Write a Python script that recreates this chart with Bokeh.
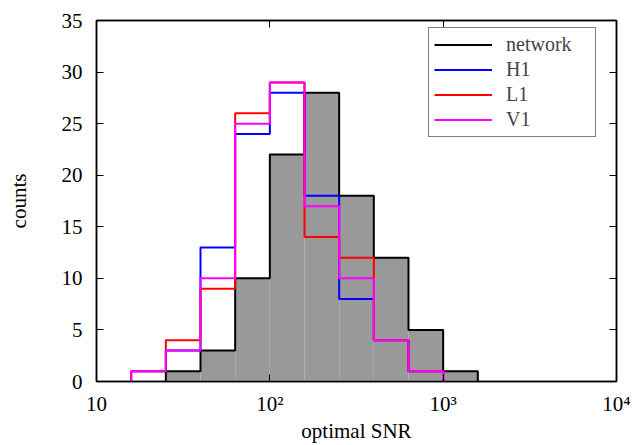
import numpy as np
from bokeh.plotting import figure
from bokeh.models import (LogAxis, LinearAxis, FixedTicker,
                          Legend, LegendItem, Range1d)
from bokeh.embed import file_html
from bokeh.resources import INLINE

# ---- data ----
bin_edges = [15.85, 25.12, 39.81, 63.10, 100.0, 158.5, 251.2, 398.1, 631.0, 1000.0, 1585.0]
network = [0, 1, 3, 10, 22, 28, 18, 12, 5, 1]
h1 = [1, 3, 13, 24, 28, 18, 8, 4, 1, 0]
l1 = [1, 4, 9, 26, 29, 14, 12, 4, 1, 0]
v1 = [1, 3, 10, 25, 29, 17, 10, 4, 1, 0]
x_ticks = [10, 100, 1000, 10000]
x_tick_labels = ["10", "10²", "10³", "10⁴"]
y_ticks = [0, 5, 10, 15, 20, 25, 30, 35]
series_names = ["network", "H1", "L1", "V1"]

FONT = "Liberation Serif"


def outline(edges, counts):
    nz = [i for i, c in enumerate(counts) if c > 0]
    i0, i1 = nz[0], nz[-1]
    xs = [edges[i0]]
    ys = [0]
    for i in range(i0, i1 + 1):
        xs += [edges[i], edges[i + 1]]
        ys += [counts[i], counts[i]]
    xs.append(edges[i1 + 1])
    ys.append(0)
    return xs, ys


p = figure(width=633, height=445, x_axis_type="log",
           x_range=Range1d(10, 10000), y_range=Range1d(0, 35),
           output_backend="svg", toolbar_location=None,
           min_border_left=96, min_border_right=17,
           min_border_top=20, min_border_bottom=63)

p.xgrid.visible = False
p.ygrid.visible = False
p.outline_line_color = "black"
p.outline_line_width = 1.5
p.background_fill_color = "white"
p.border_fill_color = "white"

# filled network histogram
nz = [i for i, c in enumerate(network) if c > 0]
p.quad(left=[bin_edges[i] for i in nz], right=[bin_edges[i + 1] for i in nz],
       bottom=0, top=[network[i] for i in nz],
       fill_color="#999999", line_color=None)

renderers = []
for counts, color in zip([network, h1, l1, v1], ["black", "#0000ff", "#ff0000", "#ff00ff"]):
    xs, ys = outline(bin_edges, counts)
    r = p.line(xs, ys, line_color=color, line_width=2)
    renderers.append(r)

legend = Legend(items=[LegendItem(label=n, renderers=[r]) for n, r in zip(series_names, renderers)],
                location=(332, 244), orientation="vertical",
                label_text_font=FONT, label_text_font_size="20px",
                glyph_width=58, glyph_height=19, label_height=19,
                label_width=84,
                spacing=2, padding=5, margin=0, label_standoff=14,
                border_line_color="black", border_line_width=1,
                background_fill_alpha=1.0)
p.add_layout(legend)

# bottom axis
p.xaxis.ticker = FixedTicker(ticks=x_ticks, minor_ticks=[])
p.xaxis.major_label_overrides = {t: l for t, l in zip(x_ticks, x_tick_labels)}
p.xaxis.axis_label = "optimal SNR"

# left axis
p.yaxis.ticker = FixedTicker(ticks=y_ticks, minor_ticks=[])
p.yaxis.axis_label = "counts"

for ax in [p.xaxis[0], p.yaxis[0]]:
    ax.major_tick_in = 7
    ax.major_tick_out = 0
    ax.minor_tick_in = 0
    ax.minor_tick_out = 0
    ax.axis_line_color = "black"
    ax.axis_line_width = 1.5
    ax.major_tick_line_color = "black"
    ax.major_tick_line_width = 1
    ax.major_label_text_font = FONT
    ax.major_label_text_font_size = "21px"
    ax.major_label_text_color = "black"
    ax.axis_label_text_font = FONT
    ax.axis_label_text_font_size = "21px"
    ax.axis_label_text_font_style = "normal"
    ax.axis_label_text_color = "black"

p.xaxis.major_label_standoff = 10
p.xaxis.axis_label_standoff = 0
p.yaxis.major_label_standoff = 14
p.yaxis.axis_label_standoff = 28

# mirrored axes (ticks only)
top = LogAxis(ticker=FixedTicker(ticks=x_ticks, minor_ticks=[]))
right = LinearAxis(ticker=FixedTicker(ticks=y_ticks, minor_ticks=[]))
for ax in [top, right]:
    ax.major_tick_in = 7
    ax.major_tick_out = 0
    ax.minor_tick_in = 0
    ax.minor_tick_out = 0
    ax.major_label_text_font_size = "6px"
    ax.major_label_text_alpha = 0
    ax.major_label_standoff = 0
    ax.axis_line_color = "black"
    ax.axis_line_width = 1.5
    ax.major_tick_line_color = "black"
p.add_layout(top, "above")
p.add_layout(right, "right")

open("out.html", "w").write(file_html(p, INLINE))
